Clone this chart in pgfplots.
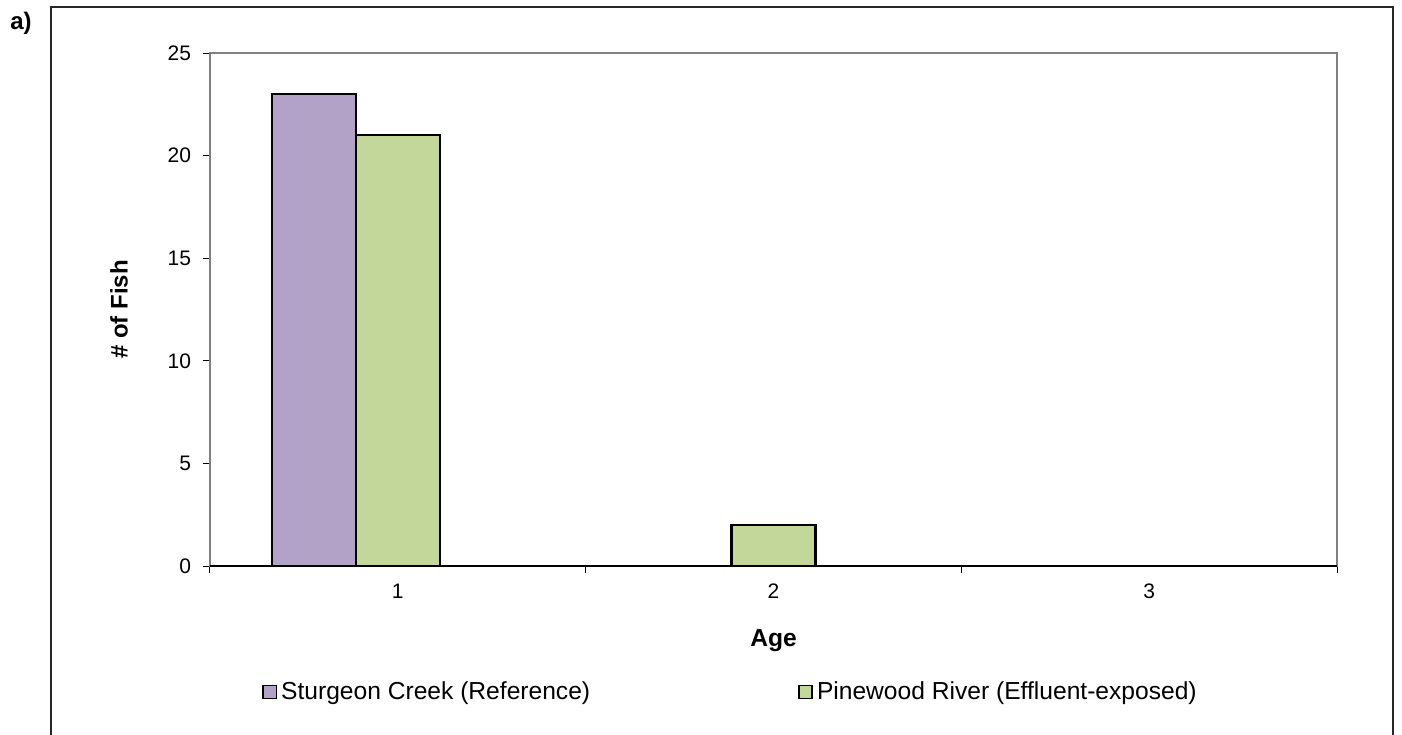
\documentclass[border=0pt]{standalone}
\usepackage{fontspec}
\setmainfont{Liberation Sans}
\usepackage{pgfplots}
\pgfplotsset{compat=1.18}
\definecolor{refpurple}{RGB}{178,162,199}
\definecolor{effgreen}{RGB}{196,215,155}
\begin{document}
\begin{tikzpicture}
\useasboundingbox (-105pt,-84pt) rectangle (596pt,283pt);
\begin{axis}[
    at={(0pt,0pt)}, anchor=south west,
    scale only axis, width=563.5pt, height=256.5pt,
    ybar=0pt, bar width=42pt,
    xmin=0.5, xmax=3.5, ymin=0, ymax=25,
    xtick={1,2,3}, minor xtick={0.5,1.5,2.5,3.5},
    ytick={0,5,...,25},
    tick align=outside, xtick pos=left, ytick pos=left,
    major tick length=3.5pt, minor tick length=3.5pt,
    tick style={black, line width=0.5pt},
    major x tick style={draw=none},
    axis line style={gray, line width=1.2pt},
    /pgf/number format/assume math mode=true,
    ticklabel style={font=\fontsize{10.5}{12}\selectfont},
    yticklabel style={xshift=-2.5pt},
    xticklabel style={yshift=-2pt},
    xlabel={\textbf{Age}},
    ylabel={\textbf{\# of Fish}},
    every axis x label/.style={at={(rel axis cs:0.5,0)}, yshift=-37.5pt, anchor=center,
        font=\fontsize{12.3}{14}\selectfont},
    every axis y label/.style={at={(rel axis cs:0,0.5)}, xshift=-45.5pt, anchor=center, rotate=90,
        font=\fontsize{12}{14}\selectfont},
    y filter/.expression={y<=0 ? nan : y},
    legend columns=2,
    legend style={at={(rel axis cs:0,0)}, anchor=west, xshift=23pt, yshift=-63pt,
        draw=none, font=\fontsize{12.3}{14}\selectfont,
        /tikz/every even column/.append style={column sep=102pt}},
    legend image code/.code={\draw[#1, line width=0.8pt] (0pt,-3.3pt) rectangle (6.6pt,3.3pt);},
    clip=false
]
\addplot[fill=refpurple, draw=black, line width=1.2pt, bar shift=-42pt] coordinates {(1,23) (2,0) (3,0)};
\addplot[fill=effgreen, draw=black, line width=1.2pt, bar shift=0pt] coordinates {(1,21) (2,2) (3,0)};
\legend{Sturgeon Creek (Reference), Pinewood River (Effluent-exposed)}
\draw[black, line width=0.6pt] (rel axis cs:0,0) -- (rel axis cs:1,0);
\end{axis}
\draw[black!85, line width=0.6pt] (-79.5pt,-90pt) -- (-79.5pt,279.5pt) -- (591.5pt,279.5pt) -- (591.5pt,-90pt);
\node[font=\bfseries\fontsize{12}{14}\selectfont] at (-94.5pt,271.5pt) {a)};
\end{tikzpicture}
\end{document}
